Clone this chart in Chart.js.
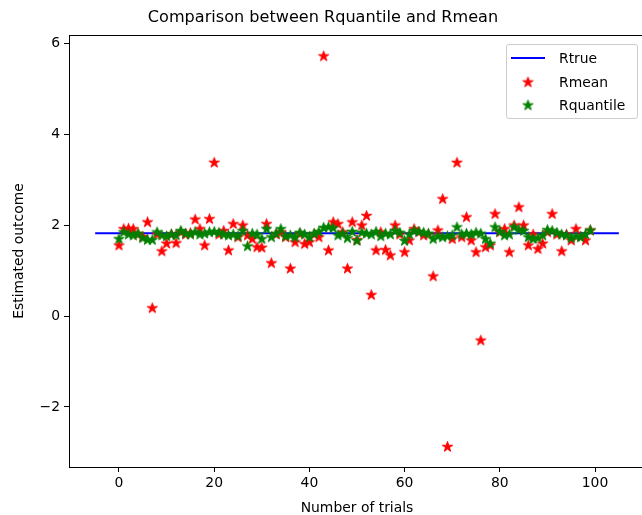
<!DOCTYPE html>
<html>
<head>
<meta charset="utf-8">
<script src="https://cdn.jsdelivr.net/npm/chart.js@4.4.0/dist/chart.umd.min.js"></script>
<style>
  html, body { margin: 0; padding: 0; background: #fff; overflow: hidden; }
  #wrap { position: relative; width: 650px; height: 515px; }
  #title {
    position: absolute; left: 0; top: 7px; width: 646px; text-align: center;
    font: 16.1px "DejaVu Sans", sans-serif; color: #000;
  }
  #legend {
    position: absolute; left: 506px; top: 44px; width: 130px; height: 73px;
    border: 1px solid #ccc; border-radius: 3px; background: rgba(255,255,255,0.8);
    font: 13.9px "DejaVu Sans", sans-serif; color: #000;
  }
  .row { position: absolute; left: 0; height: 20px; display: flex; align-items: center; }
  .row canvas { margin-left: 4px; margin-right: 13px; }
</style>
</head>
<body>
<div id="wrap">
  <canvas id="c" width="650" height="515"></canvas>
  <div id="title">Comparison between Rquantile and Rmean</div>
  <div id="legend"></div>
</div>
<script>
// ── DATA ──
const trials = Array.from({ length: 100 }, (_, i) => i);

const rmean = [
  1.56, 1.92, 1.93, 1.92, 1.80, 1.75, 2.07, 0.18, 1.80, 1.43,
  1.60, 1.80, 1.61, 1.85, 1.80, 1.83, 2.13, 1.92, 1.56, 2.14,
  3.38, 1.80, 1.88, 1.45, 2.03, 1.74, 2.00, 1.78, 1.70, 1.52,
  1.51, 2.03, 1.17, 1.80, 1.85, 1.74, 1.05, 1.63, 1.81, 1.59,
  1.63, 1.80, 1.74, 5.72, 1.45, 2.07, 2.03, 1.85, 1.05, 2.07,
  1.68, 2.00, 2.21, 0.47, 1.45, 1.85, 1.46, 1.34, 2.00, 1.80,
  1.41, 1.67, 1.92, 1.85, 1.78, 1.80, 0.88, 1.89, 2.58, -2.87,
  1.70, 3.38, 1.74, 2.18, 1.67, 1.41, -0.53, 1.52, 1.56, 2.25,
  1.85, 1.92, 1.41, 2.00, 2.40, 2.00, 1.56, 1.80, 1.48, 1.60,
  1.85, 2.25, 1.80, 1.43, 1.80, 1.67, 1.92, 1.75, 1.67, 1.89
];

const rquantile = [
  1.70, 1.85, 1.80, 1.78, 1.82, 1.72, 1.68, 1.68, 1.85, 1.78,
  1.76, 1.80, 1.78, 1.88, 1.82, 1.80, 1.85, 1.80, 1.82, 1.85,
  1.86, 1.84, 1.80, 1.78, 1.80, 1.76, 1.88, 1.54, 1.82, 1.80,
  1.70, 1.92, 1.74, 1.82, 1.92, 1.76, 1.78, 1.74, 1.84, 1.80,
  1.74, 1.82, 1.86, 1.95, 1.96, 1.94, 1.78, 1.82, 1.72, 1.86,
  1.66, 1.84, 1.82, 1.80, 1.86, 1.76, 1.82, 1.80, 1.88, 1.84,
  1.66, 1.80, 1.88, 1.86, 1.84, 1.82, 1.70, 1.76, 1.74, 1.76,
  1.78, 1.96, 1.80, 1.82, 1.80, 1.84, 1.82, 1.70, 1.60, 1.96,
  1.86, 1.78, 1.80, 1.96, 1.90, 1.88, 1.74, 1.70, 1.72, 1.78,
  1.90, 1.88, 1.84, 1.80, 1.78, 1.72, 1.76, 1.74, 1.80, 1.89
];

const rtrueX = [-5, 105];
const rtrueY = [1.82, 1.82];

const xTicks = [0, 20, 40, 60, 80, 100];
const yTicks = [-2, 0, 2, 4, 6];

const FONT = '"DejaVu Sans", sans-serif';

// ── STAR MARKER (matplotlib '*') ──
function makeStar(color) {
  const c = document.createElement('canvas');
  c.width = 13; c.height = 13;
  const g = c.getContext('2d');
  const R = 5.4, r = R * 0.381, cx = 6.5, cy = 6.9;
  g.beginPath();
  for (let i = 0; i < 10; i++) {
    const rad = i % 2 ? r : R;
    const a = -Math.PI / 2 + i * Math.PI / 5;
    const px = cx + rad * Math.cos(a), py = cy + rad * Math.sin(a);
    i ? g.lineTo(px, py) : g.moveTo(px, py);
  }
  g.closePath();
  g.fillStyle = color; g.fill();
  g.strokeStyle = color; g.lineWidth = 1; g.stroke();
  return c;
}
const redStar = makeStar('#ff0000');
const greenStar = makeStar('#008000');

// ── FRAME PLUGIN (four spines) ──
const framePlugin = {
  id: 'frame',
  afterDraw(chart) {
    const { ctx, chartArea: { left, right, top, bottom } } = chart;
    ctx.save();
    ctx.strokeStyle = '#000';
    ctx.lineWidth = 1;
    ctx.strokeRect(Math.round(left) + 0.5, Math.round(top) + 0.5,
      Math.round(right - left), Math.round(bottom - top));
    ctx.restore();
  }
};

const tickFont = { family: FONT, size: 13.9 };

new Chart(document.getElementById('c'), {
  type: 'scatter',
  data: {
    datasets: [
      {
        type: 'line',
        label: 'Rtrue',
        data: rtrueX.map((x, i) => ({ x, y: rtrueY[i] })),
        borderColor: '#0000ff',
        borderWidth: 2,
        pointRadius: 0,
        fill: false,
        order: 3,
      },
      {
        label: 'Rmean',
        data: trials.map((t, i) => ({ x: t, y: rmean[i] })),
        pointStyle: redStar,
        order: 2,
      },
      {
        label: 'Rquantile',
        data: trials.map((t, i) => ({ x: t, y: rquantile[i] })),
        pointStyle: greenStar,
        order: 1,
      },
    ]
  },
  options: {
    responsive: false,
    animation: false,
    layout: { padding: { top: 35, right: 3, bottom: 0, left: 0 } },
    plugins: { legend: { display: false }, tooltip: { enabled: false } },
    scales: {
      x: {
        type: 'linear',
        min: -10.5,
        max: 110.5,
        afterBuildTicks: s => { s.ticks = xTicks.map(v => ({ value: v })); },
        afterFit: s => { s.height = 48; },
        ticks: { color: '#000', font: tickFont, padding: 3, maxRotation: 0 },
        grid: { drawOnChartArea: false, tickLength: 5, tickColor: '#000', lineWidth: 1 },
        border: { display: false },
        title: { display: true, text: 'Number of trials', color: '#000',
                 font: { family: FONT, size: 13.9 }, padding: { top: 0, bottom: -2 } }
      },
      y: {
        type: 'linear',
        min: -3.32,
        max: 6.18,
        afterBuildTicks: s => { s.ticks = yTicks.map(v => ({ value: v })); },
        afterFit: s => { s.width = 69; },
        ticks: { color: '#000', font: tickFont, padding: 4,
                 callback: v => String(v).replace('-', '\u2212') },
        grid: { drawOnChartArea: false, tickLength: 5, tickColor: '#000', lineWidth: 1 },
        border: { display: false },
        title: { display: true, text: 'Estimated outcome', color: '#000',
                 font: { family: FONT, size: 13.9 }, padding: { top: 11, bottom: 0 } }
      }
    }
  },
  plugins: [framePlugin]
});

// ── LEGEND (matplotlib style, inside axes) ──
const legendItems = [
  { label: 'Rtrue', kind: 'line', color: '#0000ff' },
  { label: 'Rmean', kind: 'star', img: redStar },
  { label: 'Rquantile', kind: 'star', img: greenStar },
];
const legendEl = document.getElementById('legend');
legendItems.forEach((it, i) => {
  const row = document.createElement('div');
  row.className = 'row';
  row.style.top = (3 + i * 23.5) + 'px';
  const sw = document.createElement('canvas');
  sw.width = 35; sw.height = 20;
  const g = sw.getContext('2d');
  if (it.kind === 'line') {
    g.strokeStyle = it.color; g.lineWidth = 2;
    g.beginPath(); g.moveTo(0, 10); g.lineTo(34, 10); g.stroke();
  } else {
    g.drawImage(it.img, 17 - 6.5, 10 - 6.5);
  }
  row.appendChild(sw);
  const span = document.createElement('span');
  span.textContent = it.label;
  row.appendChild(span);
  legendEl.appendChild(row);
});
</script>
</body>
</html>
